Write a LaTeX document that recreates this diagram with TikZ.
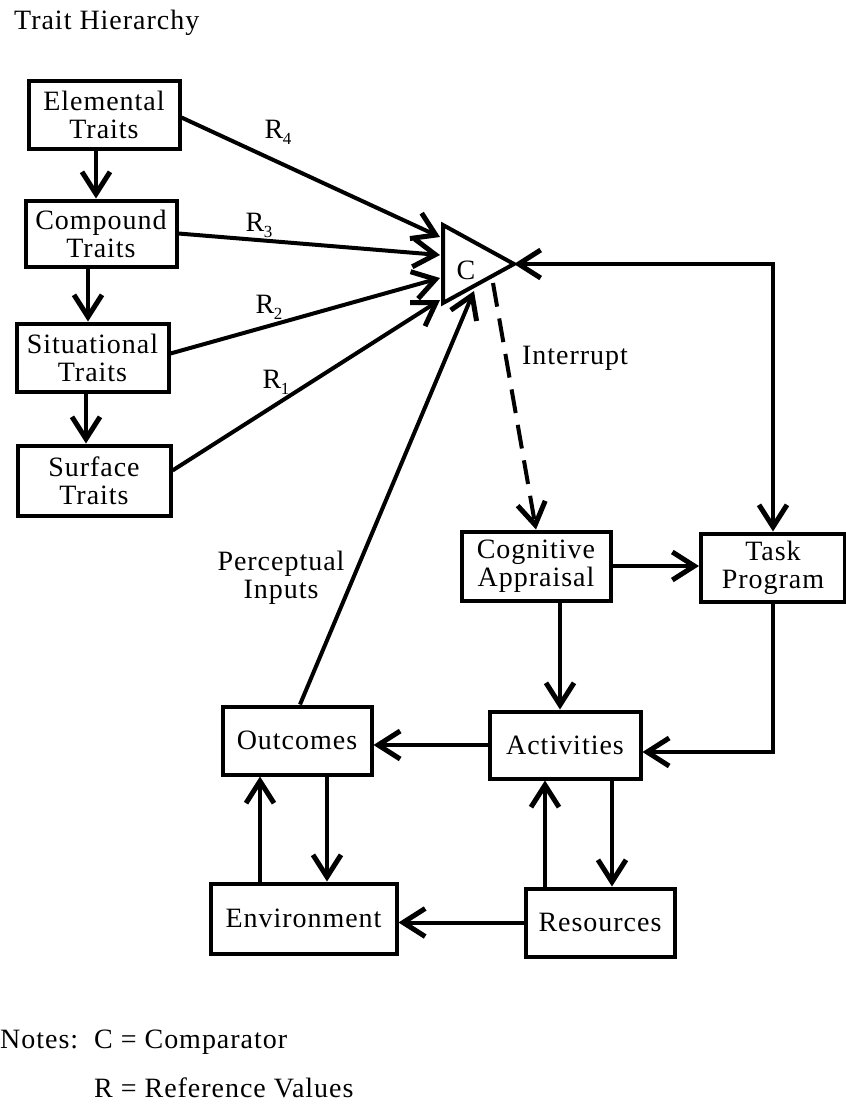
\documentclass[tikz,border=0pt]{standalone}
\usepackage{fontspec}
\setmainfont{Liberation Serif}[LetterSpace=3.5]
\usetikzlibrary{arrows.meta}

% subscripted reference value label
\newcommand\refval[1]{R\kern-0.5pt\raisebox{-6pt}{\fontsize{17}{17}\selectfont #1}}

\tikzset{
  txt/.style={font=\fontsize{28}{28}\selectfont, inner sep=0pt},
  box/.style={txt, draw, line width=4pt, align=center},
  con/.style={line width=4pt, -{Straight Barb[length=22pt,width=28pt,line width=5pt]}},
  dcon/.style={line width=4pt, {Straight Barb[length=22pt,width=28pt,line width=5pt]}-{Straight Barb[length=22pt,width=28pt,line width=5pt]}},
}

\begin{document}
\begin{tikzpicture}[x=1pt,y=-1pt]
\useasboundingbox (0,0) rectangle (846,1104);
\fill[white] (0,0) rectangle (846,1104);

% title
\node[txt, anchor=base west] (title) at (14,29) {Trait Hierarchy};

% trait hierarchy
\node[box, minimum width=151, minimum height=68] (elem) at (104,114.5) {Elemental\\Traits};
\node[box, minimum width=151, minimum height=66] (comp) at (101,233.5) {Compound\\Traits};
\node[box, minimum width=152, minimum height=68] (sit)  at (92.5,357.5) {Situational\\Traits};
\node[box, minimum width=153, minimum height=70] (surf) at (94,480.5) {Surface\\Traits};

% comparator
\coordinate (cTop) at (443,225);
\coordinate (cApex) at (514,264);
\coordinate (cBot) at (443,303);
\draw[line width=4pt, line join=miter] (cTop) -- (cApex) -- (cBot) -- cycle;
\node[txt] (cmp) at (466,270) {C};
\coordinate (tR4) at (440,237);
\coordinate (tR3) at (440,255);
\coordinate (tR2) at (440,278);
\coordinate (tR1) at (440,300);
\coordinate (tP)  at (474,291);
\coordinate (cInt) at (493,283);

% process boxes
\node[box, minimum width=149, minimum height=69] (cog)  at (536,566) {Cognitive\\Appraisal};
\node[box, minimum width=144, minimum height=68] (task) at (773,567.5) {Task\\Program};
\node[box, minimum width=151, minimum height=67] (act)  at (565,745) {Activities};
\node[box, minimum width=149, minimum height=68] (out)  at (297,740.5) {Outcomes};
\node[box, minimum width=186, minimum height=70] (env)  at (303.5,918.5) {Environment};
\node[box, minimum width=149, minimum height=68] (res)  at (600,922.5) {Resources};

% hierarchy arrows
\draw[con] (elem.south -| 96,0) -- (comp.north -| 96,0);
\draw[con] (comp.south -| 88,0) -- (sit.north -| 88,0);
\draw[con] (sit.south -| 86,0) -- (surf.north -| 86,0);

% reference values into the comparator
\draw[con] ([yshift=-3pt]elem.east) -- (tR4);
\draw[con] (comp.east) -- (tR3);
\draw[con] ([yshift=4pt]sit.east) -- (tR2);
\draw[con] ([yshift=10pt]surf.east) -- (tR1);
\node[txt] (r4) at (278,132) {\refval{4}};
\node[txt] (r3) at (259,225) {\refval{3}};
\node[txt] (r2) at (269,307) {\refval{2}};
\node[txt] (r1) at (276,382) {\refval{1}};

% perceptual inputs
\draw[con] ([xshift=3pt]out.north) -- (tP);
\node[txt, align=center] (pin) at (281,578) {Perceptual\\[0pt]Inputs};

% interrupt
\draw[con, dash pattern=on 24pt off 12pt] (cInt) -- (cog.north);
\node[txt] (intr) at (575,358) {Interrupt};

% comparator <-> task program
\draw[dcon] (cApex) -| (task.north);

% process arrows
\draw[con] (cog.east) -- (cog.east -| task.west);
\draw[con] (cog.south -| 560,0) -- (act.north -| 560,0);
\draw[con] (task.south) |- ([yshift=-7pt]act.east);
\draw[con] (act.west) -- (act.west -| out.east);
\draw[con] (out.south -| 327,0) -- (env.north -| 327,0);
\draw[con] (env.north -| 260,0) -- (out.south -| 260,0);
\draw[con] (act.south -| 612,0) -- (res.north -| 612,0);
\draw[con] (res.north -| 545,0) -- (act.south -| 545,0);
\draw[con] (res.west) -- (res.west -| env.east);

% notes
\node[txt, anchor=base west] (nt) at (0,1048) {Notes:};
\node[txt, anchor=base west] (nc) at (94,1048) {C = Comparator};
\node[txt, anchor=base west] (nr) at (94,1097) {R = Reference Values};
\end{tikzpicture}
\end{document}
